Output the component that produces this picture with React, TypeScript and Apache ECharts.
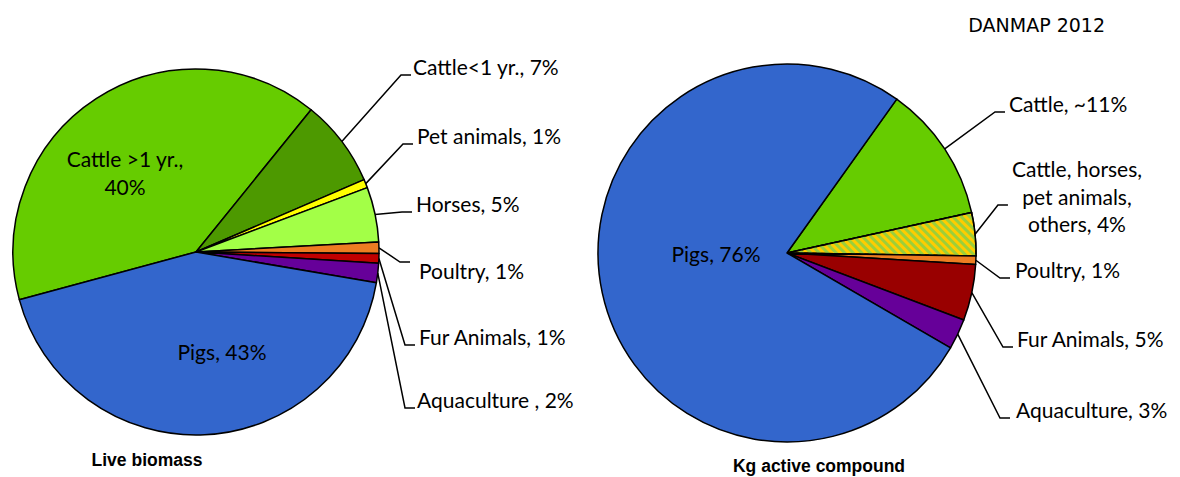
import React, { useEffect, useRef } from "react";
import * as echarts from "echarts";

// ---- Data ----
const leftNames = ["Cattle >1 yr.", "Cattle<1 yr.", "Pet animals", "Horses", "Poultry", "Fur Animals", "Aquaculture ", "Pigs"];
const leftValues = [40.0, 7.7, 0.75, 4.85, 1.0, 0.85, 1.7, 43.1];
const leftLabels = ["Cattle >1 yr.,\n40%", "Cattle<1 yr., 7%", "Pet animals, 1%", "Horses, 5%", "Poultry, 1%", "Fur Animals, 1%", "Aquaculture , 2%", "Pigs, 43%"];

const rightNames = ["Cattle", "Cattle, horses, pet animals, others", "Poultry", "Fur Animals", "Aquaculture", "Pigs"];
const rightValues = [11.7, 3.7, 0.7, 4.8, 2.6, 76.5];
const rightLabels = ["Cattle, ~11%", "Cattle, horses,\npet animals,\nothers, 4%", "Poultry, 1%", "Fur Animals, 5%", "Aquaculture, 3%", "Pigs, 76%"];

const pieTitles = ["Live biomass", "Kg active compound"];
const sourceNote = "DANMAP 2012";

// ---- Styles / layout ----
const leftColors = ["#66CC00", "#4D9900", "#FFFF00", "#A3FF47", "#ED7D22", "#C00000", "#660099", "#3366CC"];
const rightColors = ["#66CC00", "#FFCC00", "#ED7D22", "#990000", "#660099", "#3366CC"];
const leftInside = [true, false, false, false, false, false, false, true];
const rightInside = [false, false, false, false, false, true];
// where the text sits relative to its leader line
const leftLinePlace = ["", "above", "above", "above", "below", "above", "above", ""];
const rightLinePlace = ["above", "above", "above", "above", "above", ""];
// label anchor [x, y, align]
const leftLabelPos: [number, number, string][] = [
  [125, 172, "center"], [411, 75, "left"], [413, 144, "left"], [412, 212, "left"],
  [410, 262, "left"], [415, 345, "left"], [415, 408, "left"], [222, 351, "center"],
];
const rightLabelPos: [number, number, string][] = [
  [1005, 112, "left"], [1075, 205, "center"], [1010, 278, "left"],
  [1013, 347, "left"], [1010, 418, "left"], [716, 253, "center"],
];
const LABEL_FONT = "Lato";
const LABEL_SIZE = 21;

function richText(text: string, place: string) {
  const lines = text.split("\n").map((l) => `{t|${l}}`);
  if (place === "above") return lines.join("\n") + "\n{s| }";
  if (place === "below") return "{b| }\n" + lines.join("\n");
  return text;
}

function buildData(names: string[], values: number[], labels: string[], colors: string[], inside: boolean[], place: string[], hatchIdx: number, padLeft: Record<number, number>) {
  return names.map((n, i) => {
    const isIn = inside[i];
    const txt = isIn ? labels[i] : richText(labels[i], place[i]);
    const item: any = {
      name: n,
      value: values[i],
      itemStyle: { color: colors[i] },
      label: {
        formatter: () => txt,
        position: isIn ? "inside" : "outside",
        padding: isIn ? 0 : [0, 0, 0, padLeft[i] ?? 4],
        align: isIn || i === hatchIdx ? "center" : "left",
        rich: {
          t: { fontFamily: LABEL_FONT, fontSize: LABEL_SIZE, color: "#000", lineHeight: 27.5 },
          s: { fontSize: 4, lineHeight: 18 },
          b: { fontSize: 4, lineHeight: 16 },
        },
      },
      labelLine: { show: !isIn },
    };
    if (i === hatchIdx) {
      item.itemStyle.decal = {
        symbol: "rect",
        symbolSize: 1,
        color: "#9BCF3A",
        dashArrayX: [1, 0],
        dashArrayY: [2.2, 2.2],
        rotation: Math.PI / 4,
      };
    }
    return item;
  });
}

export default function App() {
  const ref = useRef<HTMLDivElement>(null);
  useEffect(() => {
    document.body.style.margin = "0";
    const chart = echarts.init(ref.current!, null, { renderer: "svg" });
    const commonSeries = {
      type: "pie",
      clockwise: true,
      avoidLabelOverlap: false,
      itemStyle: { borderColor: "#000", borderWidth: 1.5 },
      label: {
        color: "#000",
        fontFamily: LABEL_FONT,
        fontSize: LABEL_SIZE,
        lineHeight: 28,
      },
      labelLine: {
        length: 20,
        length2: 10,
        minTurnAngle: 0,
        lineStyle: { color: "#000", width: 1.5 },
      },
      emphasis: { disabled: true },
    };
    chart.setOption({
      animation: false,
      series: [
        {
          ...commonSeries,
          center: [196, 252],
          radius: 183,
          startAngle: 195.1,
          data: buildData(leftNames, leftValues, leftLabels, leftColors, leftInside, leftLinePlace, -1, { 4: 9, 1: 2, 6: 2 }),
          labelLayout: (p: any) => {
            const pos = leftLabelPos[p.dataIndex];
            return { x: pos[0], y: pos[1], align: pos[2], verticalAlign: "middle" };
          },
        },
        {
          ...commonSeries,
          center: [787, 253],
          radius: 189,
          startAngle: 54.5,
          data: buildData(rightNames, rightValues, rightLabels, rightColors, rightInside, rightLinePlace, 1, { 2: 5, 4: 6 }),
          labelLayout: (p: any) => {
            const pos = rightLabelPos[p.dataIndex];
            return { x: pos[0], y: pos[1], align: pos[2], verticalAlign: "middle" };
          },
        },
      ],
      graphic: [
        {
          type: "text",
          x: 147,
          y: 460,
          style: { text: pieTitles[0], font: "bold 17.5px 'Liberation Sans', Arial", fill: "#000", align: "center", verticalAlign: "middle" },
        },
        {
          type: "text",
          x: 819,
          y: 466,
          style: { text: pieTitles[1], font: "bold 17.5px 'Liberation Sans', Arial", fill: "#000", align: "center", verticalAlign: "middle" },
        },
        {
          type: "text",
          x: 1105,
          y: 25,
          style: { text: sourceNote, font: "19px 'DejaVu Sans'", fill: "#000", align: "right", verticalAlign: "middle" },
        },
      ],
    });
    return () => chart.dispose();
  }, []);
  return <div ref={ref} style={{ width: 1180, height: 477 }} />;
}
